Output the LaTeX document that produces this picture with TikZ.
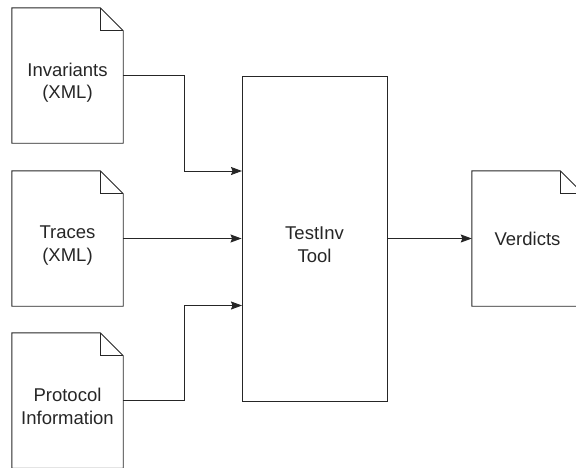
\documentclass[tikz,border=0pt]{standalone}
\usepackage{fontspec}
\setmainfont{Liberation Sans}
\usetikzlibrary{arrows.meta,calc}
\begin{document}
\begin{tikzpicture}[x=1pt,y=-1pt,
  ln/.style={draw=black!85,line width=0.9pt},
  docbox/.style={minimum width=111pt,minimum height=135pt,inner sep=0pt,draw=none},
  toolbox/.style={ln,minimum width=145pt,minimum height=325pt,inner sep=0pt},
  txt/.style={font=\fontsize{18.5}{22.5}\selectfont,align=center,inner sep=0pt,text=black!85},
  arr/.style={ln,-{Stealth[length=11pt,width=8pt,inset=1.5pt]}}]
\clip (0,0) rectangle (576,467);
\newcommand{\docshape}[1]{%
  \draw[ln] (#1.north west) -- ([xshift=-23pt]#1.north east) -- ([yshift=-23pt]#1.north east)
    -- (#1.south east) -- (#1.south west) -- cycle;
  \draw[ln] ([xshift=-23pt]#1.north east) -- ([xshift=-23pt,yshift=-23pt]#1.north east)
    -- ([yshift=-23pt]#1.north east);}
% documents
\node[docbox] (inv) at (67.5,75.5) {};
\node[docbox] (tra) at (67.5,238.5) {};
\node[docbox] (pro) at (67.5,400.5) {};
\node[docbox] (ver) at (527.5,238.5) {};
\docshape{inv}
\docshape{tra}
\docshape{pro}
\docshape{ver}
\node[txt] (invt) at ([yshift=-7pt]inv.center) {Invariants\\(XML)};
\node[txt] (trat) at ([yshift=-7pt]tra.center) {Traces\\(XML)};
\node[txt] (prot) at ([yshift=-6pt]pro.center) {Protocol\\Information};
\node[txt] (vert) at (ver.center) {Verdicts};
% tool
\node[toolbox] (tool) at (314.5,238.5) {};
\node[txt] (toolt) at ([yshift=-6pt]tool.center) {TestInv\\Tool};
% connector points
\coordinate (j1) at (184,171);
\coordinate (j3) at (184,305.5);
\coordinate (t1) at (242,171);
\coordinate (t3) at (242,305.5);
% connectors
\draw[arr] (inv.east) -| (j1) -- (t1);
\draw[arr] (tra.east) -- (tool.west);
\draw[arr] (pro.east) -| (j3) -- (t3);
\draw[arr] (tool.east) -- (ver.west);
\end{tikzpicture}
\end{document}
